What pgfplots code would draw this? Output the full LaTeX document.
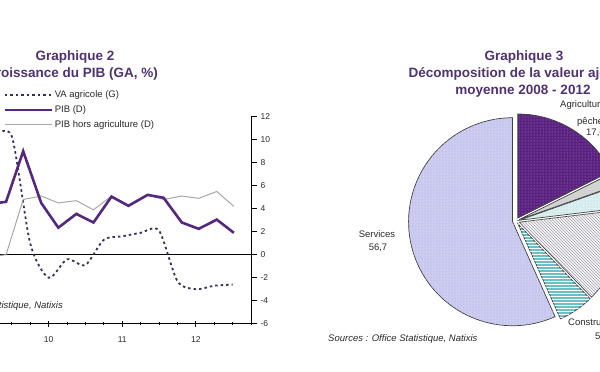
\documentclass[border=0pt]{standalone}
\usepackage{pgfplots}
\pgfplotsset{compat=1.18}
\usepackage{fontspec}
\setmainfont{Liberation Sans}
\usetikzlibrary{patterns}
\definecolor{titlec}{HTML}{4F3272}
\definecolor{pibc}{HTML}{55287F}
\definecolor{vac}{HTML}{3A2E5C}
\definecolor{grayc}{HTML}{A8A8A8}
\definecolor{txt}{HTML}{2A2A2A}
\definecolor{servc}{HTML}{C6C6EE}
\definecolor{agric}{HTML}{5A2180}
\definecolor{slgray}{HTML}{D2D2D2}
\definecolor{slcyan}{HTML}{DCF0F0}
\definecolor{slhatch}{HTML}{F4F4FA}
\definecolor{slcons}{HTML}{6CBFC2}
% slice from cumulative percent #1 to #2 (clockwise from 12 o'clock)
\newcommand{\pieslice}[3]{%
  \draw[shift={({90-1.8*(#1+#2)}:3.5pt)}, draw=black!75, line width=0.7pt, #3]
    (axis cs:0,0) -- ++({90-3.6*#1}:104pt)
    arc[start angle={90-3.6*#1}, end angle={90-3.6*#2}, radius=104pt] -- cycle;}
\begin{document}
\begin{tikzpicture}[x=1pt,y=1pt]
\path[use as bounding box, fill=white] (0,0) rectangle (600,372);
% ---------- left chart ----------
\node[font=\bfseries\fontsize{13.5}{16}\selectfont, text=titlec] at (75,314.5) {Graphique 2};
\node[font=\bfseries\fontsize{13.5}{16}\selectfont, text=titlec, anchor=east, inner sep=0pt] at (158,298) {Croissance du PIB (GA, \%)};
\begin{axis}[
  at={(0,42)}, anchor=south west, scale only axis,
  width=251pt, height=207pt,
  xmin=-0.64, xmax=13, ymin=-6, ymax=12,
  axis x line*=bottom, axis y line*=right,
  axis line style={black, line width=0.8pt},
  ytick={-6,-4,...,12},
  xtick={2,6,10}, xticklabels={10,11,12},
  minor xtick={0,1,...,13},
  xtick align=center,
  ytick align=outside,
  major tick length=6pt, minor tick length=3pt,
  tick style={black, line width=0.7pt},
  /pgf/number format/assume math mode=true,
  ticklabel style={font=\fontsize{8.5}{10}\selectfont, text=txt},
  xticklabel style={yshift=-6pt},
  extra y ticks={0}, extra y tick labels={},
  extra y tick style={grid=major, major grid style={black, line width=0.7pt}, tick style={draw=none}},
  legend style={draw=none, fill=none, at={(axis description cs:0.012,1.135)}, anchor=north west,
    font=\fontsize{9.5}{11}\selectfont, text=txt, row sep=2.5pt, inner sep=0pt, cells={anchor=west}},
  legend image code/.code={\draw[#1] (0pt,0pt) -- (47pt,0pt);},
]
\addplot[vac, line width=1.8pt, dash pattern=on 2.5pt off 3pt, smooth, tension=0.45] coordinates {
  (-1,10.2) (0,10.3) (1,1.0) (2,-2.0) (3,-0.4) (4,-0.9) (5,1.3) (6,1.6)
  (7,1.9) (8,2.1) (9,-2.3) (10,-3.0) (11,-2.7) (12,-2.6)};
\addlegendimage{pibc, line width=2.6pt}
\addlegendimage{grayc, line width=1pt}
\addplot[grayc, line width=1pt, forget plot] coordinates {
  (-1.24,-0.2) (-0.31,0.0) (0.62,4.8) (1.60,5.1) (2.53,4.5) (3.51,4.7) (4.44,3.9)
  (5.42,5.1) (6.34,4.25) (7.38,5.2) (8.25,4.8) (9.24,5.1) (10.16,4.9) (11.14,5.5) (12.07,4.2)};
\addplot[pibc, line width=2.6pt, forget plot] coordinates {
  (-1.24,4.4) (-0.31,4.6) (0.62,9.0) (1.60,4.5) (2.53,2.35) (3.51,3.55) (4.44,2.8)
  (5.42,5.05) (6.34,4.25) (7.38,5.2) (8.25,4.95) (9.24,2.8) (10.16,2.25) (11.14,3.05) (12.07,1.9)};
\legend{VA agricole (G), PIB (D), PIB hors agriculture (D)}
\end{axis}
\node[anchor=east, font=\itshape\fontsize{9.5}{11}\selectfont, text=txt, inner sep=0pt] at (63,66) {Sources : Office Statistique, Natixis};
% ---------- right chart ----------
\node[font=\bfseries\fontsize{13.5}{16}\selectfont, text=titlec] at (524,314.5) {Graphique 3};
\node[font=\bfseries\fontsize{13.5}{16}\selectfont, text=titlec] at (522,298) {Décomposition de la valeur ajoutée};
\node[font=\bfseries\fontsize{13.5}{16}\selectfont, text=titlec] at (523,280.5) {moyenne 2008 - 2012};
\begin{axis}[at={(516,151)}, anchor=center, hide axis, scale only axis,
  x=1pt, y=1pt, xmin=-115, xmax=115, ymin=-115, ymax=115, clip=false]
\pieslice{43.3}{100}{fill=servc, postaction={pattern=dots, pattern color=white}}
\pieslice{0}{17.6}{fill=agric, postaction={pattern=dots, pattern color=agric!50!white}}
\pieslice{17.6}{19.6}{fill=slgray}
\pieslice{19.6}{23.1}{fill=slcyan, postaction={pattern=dots, pattern color=teal!40}}
\pieslice{23.1}{37.8}{fill=slhatch, postaction={pattern=north west lines, pattern color=black!35}}
\pieslice{37.8}{43.3}{fill=slcons, postaction={pattern=horizontal lines, pattern color=white}}
\end{axis}
\node[font=\fontsize{9.5}{11}\selectfont, text=txt] at (377,138) {Services};
\node[font=\fontsize{9.5}{11}\selectfont, text=txt] at (378,124) {56,7};
\node[anchor=west, font=\fontsize{9.5}{11}\selectfont, text=txt, inner sep=0pt] at (560,267) {Agriculture,};
\node[anchor=west, font=\fontsize{9.5}{11}\selectfont, text=txt, inner sep=0pt] at (577,250) {pêche};
\node[anchor=west, font=\fontsize{9.5}{11}\selectfont, text=txt, inner sep=0pt] at (586,239) {17,6};
\node[anchor=west, font=\fontsize{9.5}{11}\selectfont, text=txt, inner sep=0pt] at (568,50) {Construction};
\node[anchor=west, font=\fontsize{9.5}{11}\selectfont, text=txt, inner sep=0pt] at (595,35) {5,5};
\node[anchor=west, font=\itshape\fontsize{9.5}{11}\selectfont, text=txt, inner sep=0pt] at (328,33) {Sources : Office Statistique, Natixis};
\end{tikzpicture}
\end{document}
